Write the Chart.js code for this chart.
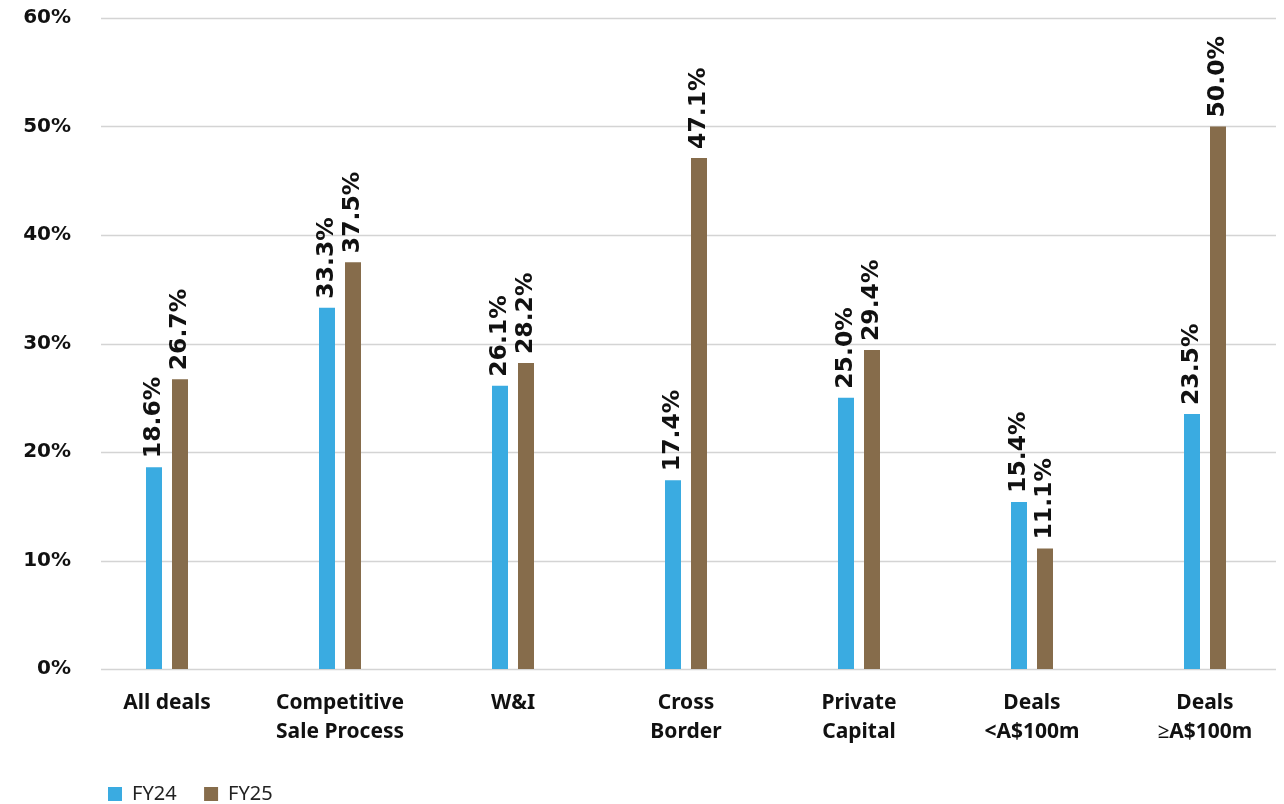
<!DOCTYPE html>
<html>
<head>
<meta charset="utf-8">
<script src="https://cdn.jsdelivr.net/npm/chart.js@4"></script>
<style>
    html, body { margin: 0; padding: 0; background: #fff; overflow: hidden; }
    #wrap { width: 1284px; height: 804px; overflow: hidden; position: relative; }
    #inner { width: 1300px; height: 804px; position: absolute; left: 0; top: 0; }
</style>
</head>
<body>
<div id="wrap"><div id="inner"><canvas id="chart"></canvas></div></div>
<script>
    // chart data
    const categories = [['All deals'], ['Competitive', 'Sale Process'], ['W&I'], ['Cross', 'Border'], ['Private', 'Capital'], ['Deals', '<A$100m'], ['Deals', '≥A$100m']];
    const seriesNames = ['FY24', 'FY25'];
    const fy24 = [18.6, 33.3, 26.1, 17.4, 25.0, 15.4, 23.5];
    const fy25 = [26.7, 37.5, 28.2, 47.1, 29.4, 11.1, 50.0];
    const yMin = 0, yMax = 60, yStep = 10;

    const colors = ['#3aabe1', '#866c4b'];

    // horizontal gridlines, drawn under the bars
    const gridPlugin = {
        id: 'gridLines',
        beforeDatasetsDraw(chart) {
            const ctx = chart.ctx;
            const y = chart.scales.y;
            ctx.save();
            ctx.strokeStyle = '#d4d4d4';
            ctx.lineWidth = 1.5;
            y.ticks.forEach(t => {
                const py = Math.round(y.getPixelForValue(t.value)) + 0.5;
                ctx.beginPath();
                ctx.moveTo(101, py);
                ctx.lineTo(1276, py);
                ctx.stroke();
            });
            ctx.restore();
        }
    };

    // rotated value labels above each bar
    const valueLabels = {
        id: 'valueLabels',
        afterDatasetsDraw(chart) {
            const ctx = chart.ctx;
            ctx.save();
            ctx.font = 'bold 23.5px "DejaVu Sans"';
            ctx.fillStyle = '#111';
            ctx.textAlign = 'left';
            ctx.textBaseline = 'middle';
            chart.data.datasets.forEach((ds, i) => {
                chart.getDatasetMeta(i).data.forEach((bar, j) => {
                    ctx.save();
                    ctx.translate(bar.x, bar.y - 9);
                    ctx.rotate(-Math.PI / 2);
                    ctx.fillText(ds.data[j].toFixed(1) + '%', 0, 0);
                    ctx.restore();
                });
            });
            ctx.restore();
        }
    };

    const ctx = document.getElementById('chart').getContext('2d');
    new Chart(ctx, {
        type: 'bar',
        data: {
            labels: categories,
            datasets: [
                { label: seriesNames[0], data: fy24, backgroundColor: colors[0] },
                { label: seriesNames[1], data: fy25, backgroundColor: colors[1] }
            ]
        },
        options: {
            responsive: true,
            maintainAspectRatio: false,
            animation: false,
            categoryPercentage: 0.3006,
            barPercentage: 0.6154,
            layout: { padding: { left: 0, right: 8.5, top: 18, bottom: -10 } },
            plugins: {
                tooltip: { enabled: false },
                legend: {
                    position: 'bottom',
                    align: 'start',
                    fullSize: false,
                    labels: {
                        boxWidth: 14,
                        boxHeight: 14,
                        padding: 27.5,
                        color: '#222',
                        font: { family: '"Noto Sans"', size: 20 }
                    }
                }
            },
            scales: {
                x: {
                    grid: { display: false, drawTicks: false },
                    border: { display: false },
                    ticks: {
                        color: '#111',
                        font: { family: '"Noto Sans"', size: 21, weight: 'bold', lineHeight: 1.38 },
                        padding: 20,
                        maxRotation: 0,
                        autoSkip: false
                    },
                    afterFit(scale) { scale.height = 87.5; }
                },
                y: {
                    min: yMin,
                    max: yMax,
                    grid: { display: false, drawTicks: false },
                    border: { display: false },
                    ticks: {
                        stepSize: yStep,
                        color: '#111',
                        padding: 9.5,
                        font: { family: '"DejaVu Sans"', size: 20, weight: 'bold' },
                        callback: v => v + '%'
                    },
                    afterFit(scale) {
                        scale.width = 80.5;
                        scale.paddingTop = 0;
                        scale.paddingBottom = 0;
                    }
                }
            }
        },
        plugins: [gridPlugin, valueLabels]
    });
</script>
</body>
</html>
